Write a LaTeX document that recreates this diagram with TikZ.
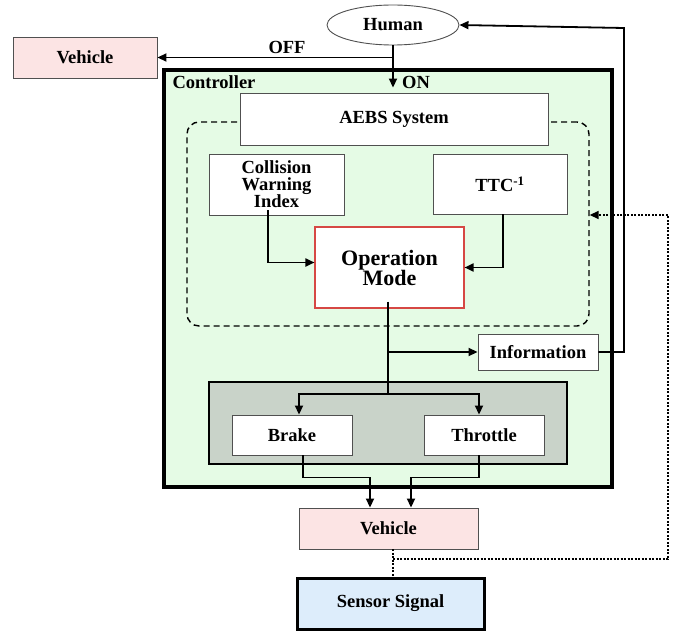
\documentclass[tikz,border=0pt]{standalone}
\usepackage{fontspec}
\setmainfont{Liberation Serif}
\usetikzlibrary{arrows.meta,shapes.geometric}
\definecolor{vehfill}{RGB}{252,228,228}
\definecolor{ctrlfill}{RGB}{229,251,229}
\definecolor{unitfill}{RGB}{201,211,201}
\definecolor{sensfill}{RGB}{221,237,251}
\definecolor{boxline}{RGB}{80,80,80}
\definecolor{modeline}{RGB}{214,72,68}
\begin{document}
\begin{tikzpicture}[x=1pt, y=-1pt,
                    >={Triangle[length=9pt,width=8pt]},
                    every node/.style={font=\fontsize{18.5}{17}\selectfont\bfseries},
                    block/.style={rectangle, draw=boxline, line width=0.9pt, fill=white, inner sep=0pt, align=center},
                    link/.style={line width=1.8pt},
                    dotline/.style={line width=1.6pt, dash pattern=on 2pt off 1.5pt}]
\useasboundingbox (0,0) rectangle (676,631);

% outer parts
\node[ellipse, draw=boxline, line width=0.9pt, minimum width=132pt, minimum height=40pt, inner sep=0pt] (human) at (393,25) {Human};
\node[block, fill=vehfill, minimum width=144pt, minimum height=41pt] (vehL) at (85,57.5) {Vehicle};
\node[rectangle, draw, line width=3.4pt, fill=ctrlfill, minimum width=448pt, minimum height=417pt] (ctrl) at (388,278.5) {};
\node[anchor=north west] (ctrllbl) at (169,72) {Controller};

% AEBS
\node[rectangle, draw, dashed, line width=1.4pt, dash pattern=on 6pt off 4pt, rounded corners=12pt,
      minimum width=402pt, minimum height=204pt] (modebox) at (388,224) {};
\node[block, minimum width=308pt, minimum height=52pt] (aebs) at (394,119) {AEBS System};
\node[block, minimum width=135pt, minimum height=61pt] (coll) at (276.5,184.5) {Collision\\Warning\\Index};
\node[block, minimum width=134pt, minimum height=60pt] (ttc) at (500,184) {TTC\textsuperscript{-1}};
\node[block, draw=modeline, line width=1.1pt, minimum width=149pt, minimum height=81pt,
      font=\fontsize{22}{20}\selectfont\bfseries] (opmode) at (389.5,267.5) {Operation\\Mode};
\node[block, minimum width=120pt, minimum height=36pt] (info) at (538,352) {Information};

% actuators
\node[block, draw=black, line width=1.2pt, fill=unitfill, minimum width=358pt, minimum height=82pt] (unit) at (388,423) {};
\node[block, minimum width=120pt, minimum height=40pt] (brake) at (292,435) {Brake};
\node[block, minimum width=120pt, minimum height=40pt] (throttle) at (484,435) {Throttle};

\node[block, fill=vehfill, minimum width=179pt, minimum height=41pt] (vehB) at (388.5,528.5) {Vehicle};
\node[block, draw=black, line width=3pt, fill=sensfill, minimum width=187pt, minimum height=51pt] (sensor) at (390.5,603.5) {Sensor Signal};

% connectors
\coordinate (split) at (388,394);
\coordinate (ret) at (624,28);
\coordinate (fbk) at (393,559);
\coordinate (fbkin) at (668,215);

\draw[link, ->] (human.south) -- (human.south |- aebs.north) [shorten >=5pt]
    node[right, pos=0.78, xshift=5pt] {ON};
\draw[link, ->] (human.south |- vehL.east) -- (vehL.east)
    node[above, pos=0.45] {OFF};
\draw[link, ->] ([xshift=-8.5pt, yshift=5pt]coll.south) |- ([yshift=5pt]opmode.west);
\draw[link, ->] ([xshift=3pt]ttc.south) |- (opmode.east);
\draw[link] ([yshift=7pt]split |- opmode.south) -- (split);
\draw[link, ->] (split |- info.west) -- (info.west);
\draw[link, ->] (info.east) -| (ret) -- (human.east);
\draw[link, ->] (split) -| ([xshift=7pt]brake.north);
\draw[link, ->] (split) -| ([xshift=-5pt]throttle.north);
\draw[link, ->] ([xshift=11pt]brake.south) -- ++(0,22) -| ([xshift=-18.5pt]vehB.north);
\draw[link, ->] ([xshift=-5pt]throttle.south) -- ++(0,22) -| ([xshift=22.5pt]vehB.north);

\draw[dotline] (vehB.south -| fbk) -- (sensor.north -| fbk);
\draw[dotline, ->] (fbk) -| (fbkin) -- (fbkin -| modebox.east);
\end{tikzpicture}
\end{document}
